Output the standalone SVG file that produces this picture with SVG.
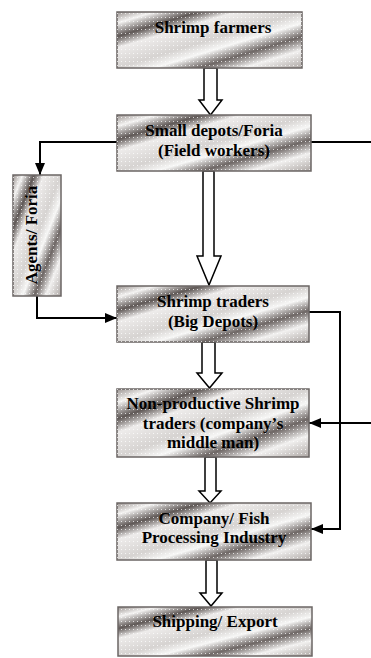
<svg xmlns="http://www.w3.org/2000/svg" width="371" height="658" viewBox="0 0 371 658">
<style>
.box{stroke:#6b6664;stroke-width:1.5}
.lbl{font-family:"Liberation Serif","Times New Roman",serif;font-weight:bold;font-size:17px;fill:#000;text-anchor:middle}
.hollow{fill:#fff;stroke:#000;stroke-width:1.5;stroke-linejoin:miter}
.conn{fill:none;stroke:#000;stroke-width:2}
</style>
<defs>
<linearGradient id="metal" x1="0" y1="0" x2="1" y2="1">
<stop offset="0" stop-color="#9a9390"/>
<stop offset="0.1" stop-color="#f4f3f2"/>
<stop offset="0.22" stop-color="#5f5856"/>
<stop offset="0.32" stop-color="#eeeceb"/>
<stop offset="0.5" stop-color="#d6d3d1"/>
<stop offset="0.6" stop-color="#f7f7f6"/>
<stop offset="0.72" stop-color="#6e6765"/>
<stop offset="0.84" stop-color="#f2f1f0"/>
<stop offset="1" stop-color="#aea8a5"/>
</linearGradient>
<pattern id="dots" width="4" height="4" patternUnits="userSpaceOnUse">
<rect x="1" y="1" width="1" height="1" fill="#fff" opacity="0.75"/>
</pattern>
<marker id="ah" markerWidth="12" markerHeight="10" refX="12" refY="5" orient="auto" markerUnits="userSpaceOnUse">
<path d="M0,0 L12,5 L0,10 z" fill="#000"/>
</marker>
</defs>

<g id="connectors">
<polygon class="hollow" points="204,68 217,68 217,100 222,100 210.5,115 199,100 204,100"/>
<polygon class="hollow" points="203,171 214,171 214,256 221,256 209,285 197,256 203,256"/>
<polygon class="hollow" points="202,342 215,342 215,373 222,373 209.5,388 197,373 202,373"/>
<polygon class="hollow" points="205,457 216,457 216,491 221,491 210,503 199,491 205,491"/>
<polygon class="hollow" points="206,560 217,560 217,593 222,593 211,606 200,593 206,593"/>
<polyline class="conn" points="117,142 40,142 40,175" marker-end="url(#ah)"/>
<line class="conn" x1="311" y1="142" x2="371" y2="142"/>
<polyline class="conn" points="37,296 37,318 117,318" marker-end="url(#ah)"/>
<polyline class="conn" points="309,312 340,312 340,529 311,529" marker-end="url(#ah)"/>
<line class="conn" x1="371" y1="423" x2="309" y2="423" marker-end="url(#ah)"/>
</g>

<g id="shrimp-farmers">
<rect class="box" x="117" y="12" width="185" height="56" fill="url(#metal)"/>
<rect x="117" y="12" width="185" height="56" fill="url(#dots)"/>
<text class="lbl" x="213" y="33">Shrimp farmers</text>
</g>

<g id="small-depots">
<rect class="box" x="117" y="115" width="194" height="56" fill="url(#metal)"/>
<rect x="117" y="115" width="194" height="56" fill="url(#dots)"/>
<text class="lbl" x="214" y="136">Small depots/Foria</text>
<text class="lbl" x="214" y="156">(Field workers)</text>
</g>

<g id="agents">
<rect class="box" x="13" y="175" width="48" height="121" fill="url(#metal)"/>
<rect x="13" y="175" width="48" height="121" fill="url(#dots)"/>
<text class="lbl" transform="translate(37,235) rotate(-90)" x="0" y="0">Agents/ Foria</text>
</g>

<g id="shrimp-traders">
<rect class="box" x="117" y="286" width="192" height="56" fill="url(#metal)"/>
<rect x="117" y="286" width="192" height="56" fill="url(#dots)"/>
<text class="lbl" x="213" y="307">Shrimp traders</text>
<text class="lbl" x="213" y="327">(Big Depots)</text>
</g>

<g id="non-productive">
<rect class="box" x="117" y="389" width="192" height="68" fill="url(#metal)"/>
<rect x="117" y="389" width="192" height="68" fill="url(#dots)"/>
<text class="lbl" x="213" y="409">Non-productive Shrimp</text>
<text class="lbl" x="213" y="429">traders (company’s</text>
<text class="lbl" x="213" y="448">middle man)</text>
</g>

<g id="company">
<rect class="box" x="117" y="503" width="194" height="57" fill="url(#metal)"/>
<rect x="117" y="503" width="194" height="57" fill="url(#dots)"/>
<text class="lbl" x="214" y="524">Company/ Fish</text>
<text class="lbl" x="214" y="543">Processing Industry</text>
</g>

<g id="shipping">
<rect class="box" x="118" y="607" width="194" height="49" fill="url(#metal)"/>
<rect x="118" y="607" width="194" height="49" fill="url(#dots)"/>
<text class="lbl" x="215" y="627">Shipping/ Export</text>
</g>
</svg>
